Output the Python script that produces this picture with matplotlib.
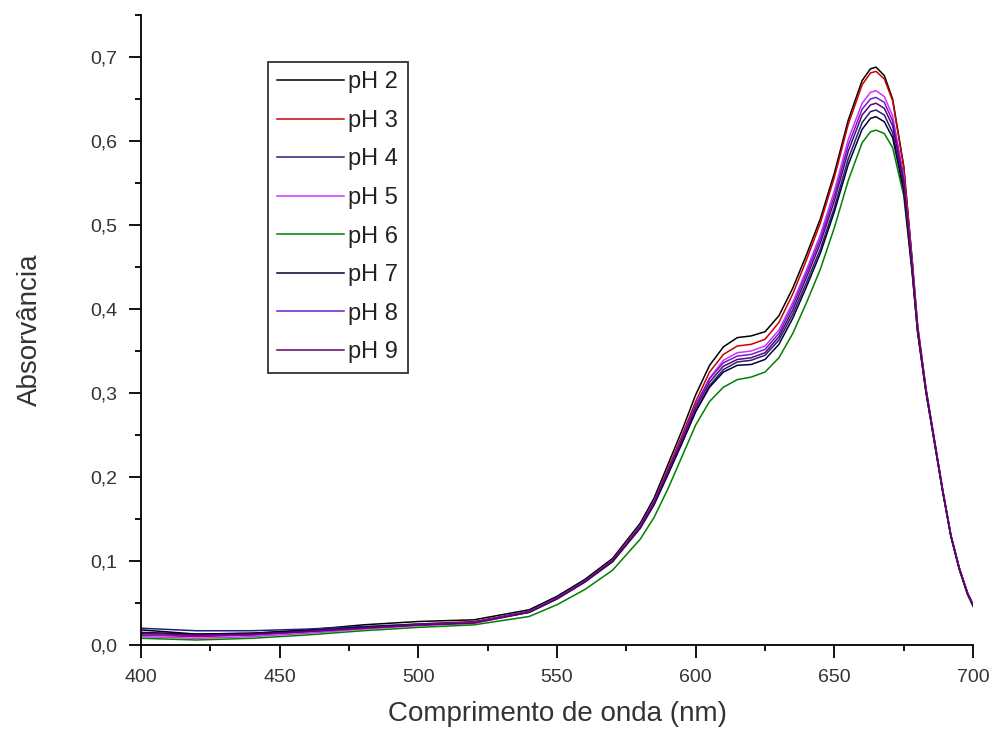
import matplotlib
matplotlib.use("Agg")
import matplotlib.pyplot as plt
from matplotlib.ticker import MultipleLocator, FuncFormatter

plt.rcParams['font.family'] = ['Liberation Sans', 'DejaVu Sans']

# wavelength grid (nm)
wl = [400, 420, 440, 460, 480, 500, 520,
      540, 550, 560, 570, 580,
      585, 590, 595, 600, 605, 610, 615, 620, 625, 630, 635, 640, 645, 650, 655, 660,
      663, 665, 668, 671, 675, 678, 680, 683, 686, 689, 692, 695, 698, 700]

ph2 = [0.018, 0.013, 0.014, 0.018, 0.024, 0.028, 0.030,
       0.042, 0.058, 0.078, 0.103, 0.145,
       0.175, 0.215, 0.255, 0.298, 0.333, 0.355, 0.366, 0.368, 0.373, 0.392, 0.425, 0.465, 0.508, 0.562, 0.625, 0.672,
       0.686, 0.688, 0.678, 0.650, 0.570, 0.460, 0.380, 0.305, 0.245, 0.185, 0.130, 0.092, 0.062, 0.048]
ph3 = [0.012, 0.010, 0.012, 0.016, 0.021, 0.025, 0.028,
       0.040, 0.056, 0.076, 0.101, 0.142,
       0.171, 0.210, 0.249, 0.290, 0.325, 0.346, 0.356, 0.358, 0.364, 0.384, 0.418, 0.459, 0.503, 0.557, 0.620, 0.667,
       0.681, 0.683, 0.674, 0.648, 0.569, 0.460, 0.381, 0.306, 0.246, 0.186, 0.131, 0.092, 0.062, 0.048]
ph4 = [0.020, 0.017, 0.017, 0.019, 0.022, 0.025, 0.027,
       0.040, 0.056, 0.076, 0.100, 0.140,
       0.168, 0.204, 0.240, 0.278, 0.309, 0.328, 0.337, 0.339, 0.345, 0.363, 0.394, 0.432, 0.472, 0.521, 0.579, 0.622,
       0.635, 0.637, 0.631, 0.610, 0.545, 0.448, 0.374, 0.302, 0.243, 0.184, 0.130, 0.091, 0.061, 0.047]
ph5 = [0.010, 0.008, 0.010, 0.014, 0.019, 0.023, 0.026,
       0.039, 0.055, 0.075, 0.100, 0.141,
       0.170, 0.207, 0.245, 0.285, 0.318, 0.339, 0.348, 0.350, 0.356, 0.375, 0.408, 0.447, 0.489, 0.541, 0.602, 0.645,
       0.658, 0.660, 0.653, 0.630, 0.558, 0.455, 0.378, 0.304, 0.245, 0.185, 0.131, 0.092, 0.062, 0.048]
ph6 = [0.008, 0.006, 0.008, 0.012, 0.017, 0.021, 0.024,
       0.034, 0.048, 0.066, 0.089, 0.126,
       0.152, 0.186, 0.224, 0.262, 0.290, 0.307, 0.316, 0.319, 0.325, 0.342, 0.371, 0.408, 0.448, 0.497, 0.553, 0.598,
       0.611, 0.613, 0.609, 0.592, 0.535, 0.444, 0.372, 0.301, 0.242, 0.183, 0.129, 0.090, 0.060, 0.046]
ph7 = [0.015, 0.013, 0.014, 0.017, 0.021, 0.024, 0.027,
       0.039, 0.055, 0.075, 0.099, 0.139,
       0.167, 0.203, 0.240, 0.278, 0.307, 0.325, 0.333, 0.334, 0.340, 0.358, 0.389, 0.427, 0.467, 0.516, 0.572, 0.614,
       0.627, 0.629, 0.623, 0.604, 0.541, 0.446, 0.373, 0.302, 0.243, 0.184, 0.130, 0.091, 0.061, 0.047]
ph8 = [0.012, 0.011, 0.012, 0.016, 0.020, 0.024, 0.027,
       0.040, 0.056, 0.076, 0.101, 0.142,
       0.171, 0.208, 0.246, 0.286, 0.317, 0.336, 0.344, 0.346, 0.352, 0.371, 0.404, 0.443, 0.484, 0.535, 0.595, 0.638,
       0.650, 0.652, 0.646, 0.624, 0.555, 0.453, 0.377, 0.304, 0.244, 0.185, 0.131, 0.092, 0.062, 0.048]
ph9 = [0.014, 0.012, 0.013, 0.016, 0.020, 0.024, 0.026,
       0.039, 0.055, 0.075, 0.100, 0.140,
       0.169, 0.206, 0.243, 0.282, 0.313, 0.332, 0.340, 0.342, 0.348, 0.367, 0.399, 0.438, 0.479, 0.529, 0.588, 0.631,
       0.643, 0.645, 0.639, 0.618, 0.551, 0.451, 0.376, 0.303, 0.244, 0.184, 0.130, 0.091, 0.061, 0.047]

labels = ["pH 2", "pH 3", "pH 4", "pH 5", "pH 6", "pH 7", "pH 8", "pH 9"]
series = [ph2, ph3, ph4, ph5, ph6, ph7, ph8, ph9]
colors = ["#000000", "#cc0000", "#202080", "#cc33ff", "#008000", "#000033", "#6a1fd0", "#660066"]

fig = plt.figure(figsize=(9.97, 7.42), dpi=100)
ax = fig.add_axes([0.1414, 0.1307, 0.8346, 0.849])

for y, lab, c in zip(series, labels, colors):
    ax.plot(wl, y, color=c, lw=1.1, label=lab)

ax.set_xlim(400, 700)
ax.set_ylim(0, 0.75)
ax.xaxis.set_major_locator(MultipleLocator(50))
ax.xaxis.set_minor_locator(MultipleLocator(25))
ax.yaxis.set_major_locator(MultipleLocator(0.1))
ax.yaxis.set_minor_locator(MultipleLocator(0.05))
ax.yaxis.set_major_formatter(FuncFormatter(lambda v, p: f"{v:.1f}".replace(".", ",")))

for s in ["top", "right"]:
    ax.spines[s].set_visible(False)
for s in ["left", "bottom"]:
    ax.spines[s].set_linewidth(1.3)

ax.tick_params(which="major", direction="out", length=9, width=1.3, pad=8,
               labelsize=14, labelcolor="#333333")
ax.tick_params(which="minor", direction="out", length=4.5, width=1.3)

ax.set_xlabel("Comprimento de onda (nm)", fontsize=20, color="#333333", labelpad=11)
ax.set_ylabel("Absorvância", fontsize=20, color="#333333", labelpad=34)

leg = ax.legend(loc="upper left", bbox_to_anchor=(268 / 997, 1 - 62 / 742),
                bbox_transform=fig.transFigure, fontsize=17, frameon=True,
                fancybox=False, edgecolor="black", labelspacing=0.7,
                handlelength=2.8, handletextpad=0.2, borderpad=0.4, borderaxespad=0)
leg.get_frame().set_linewidth(1.3)
for t in leg.get_texts():
    t.set_color("#222222")

fig.savefig("out.png", dpi=100)
